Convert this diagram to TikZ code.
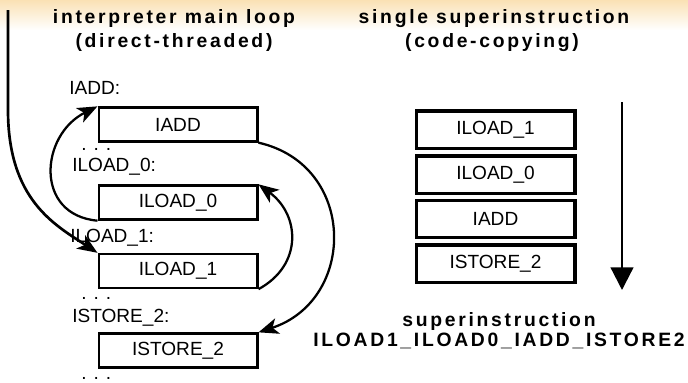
\documentclass[tikz,border=0pt]{standalone}
\usepackage{fontspec}
\setmainfont{Liberation Sans}
\newfontfamily\spacedfont[LetterSpace=14]{Liberation Sans}
\usetikzlibrary{arrows.meta}
\definecolor{bandorange}{RGB}{250,225,180}
\tikzset{instr/.style={draw,line width=1.75pt,minimum width=119pt,minimum height=25.5pt,inner sep=0pt,font=\fontsize{14.3}{17}\selectfont}}
\tikzset{superbox/.style={draw,line width=2.5pt,minimum width=119pt,minimum height=28pt,inner sep=0pt,font=\fontsize{14.3}{17}\selectfont}}
\tikzset{lbltext/.style={anchor=base west,inner sep=0pt,font=\fontsize{14.3}{17}\selectfont}}
\tikzset{heading/.style={anchor=base,inner sep=0pt,font=\fontsize{14.5}{17}\spacedfont\bfseries}}
\tikzset{jump/.style={line width=1.7pt,-{Stealth[length=15pt,width=12pt,inset=4pt]}}}

\begin{document}
\begin{tikzpicture}[x=0.75pt,y=-0.75pt]
  \useasboundingbox (0,0) rectangle (688,382);
  % background band
  \fill[top color=bandorange,bottom color=white] (0,0) rectangle (688,30);

  % headings
  \node[heading] (loophead) at (174,23) {interpreter main loop};
  \node[heading] (loopsub) at (174,47) {(direct-threaded)};
  \node[heading] (superhead) at (494,23) {single superinstruction};
  \node[heading] (supersub) at (492,47) {(code-copying)};

  % main loop (left)
  \node[lbltext] (liadd) at (69,94) {IADD:};
  \node[instr] (iadd) at (178,124.5) {IADD};
  \node[lbltext] (dotsa) at (81,150) {. . .};
  \node[lbltext] (lloadz) at (72,171) {ILOAD\_0:};
  \node[instr] (iloadz) at (178,202.5) {ILOAD\_0};
  \node[lbltext] (lloadi) at (70,242) {ILOAD\_1:};
  \node[instr] (iloadi) at (178,271) {ILOAD\_1};
  \node[lbltext] (dotsb) at (81,299) {. . .};
  \node[lbltext] (lstore) at (72,322) {ISTORE\_2:};
  \node[instr] (istore) at (178,350.5) {ISTORE\_2};
  \node[lbltext] (dotsc) at (81,379) {. . .};

  % dispatch jumps
  \coordinate (entry) at (8,10);
  \draw[jump,line width=2pt] (entry) -- (8,110) .. controls (8,200) and (55,225) .. (iloadi.north west);
  \draw[jump] (iloadi.south east) .. controls (303,265) and (300,215) .. (iloadz.north east);
  \draw[jump] (iloadz.south west) .. controls (34,215) and (40,135) .. (iadd.north west);
  \draw[jump] (iadd.south east) .. controls (357,165) and (357,300) .. (istore.north east);

  % superinstruction (right)
  \node[superbox] (siloadi) at (495.5,129.5) {ILOAD\_1};
  \node[superbox] (siloadz) at (495.5,174.5) {ILOAD\_0};
  \node[superbox] (siadd) at (495.5,219) {IADD};
  \node[superbox] (sistore) at (495.5,263.5) {ISTORE\_2};
  \coordinate (flowtop) at (622,102);
  \coordinate (flowend) at (622,290);
  \draw[line width=1.7pt,-{Triangle[length=17pt,width=17pt]}] (flowtop) -- (flowend);

  \node[heading] (superlabel) at (499,326) {superinstruction};
  \node[heading] (supername) at (499,346) {ILOAD1\_ILOAD0\_IADD\_ISTORE2};
\end{tikzpicture}
\end{document}
